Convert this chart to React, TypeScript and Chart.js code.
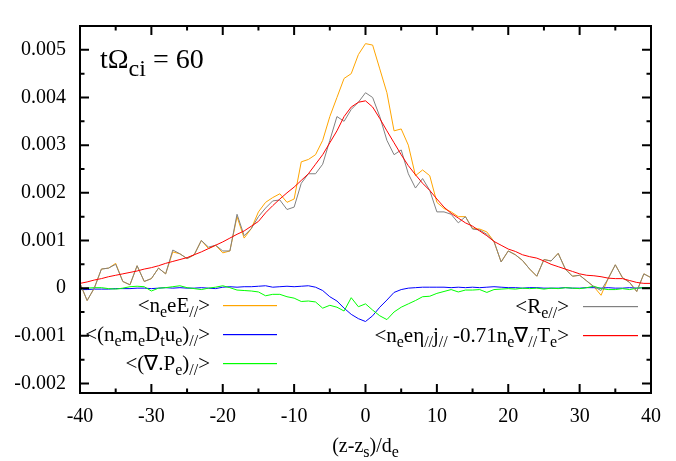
import React, { useEffect, useRef } from "react";
import { Chart, registerables } from "chart.js";
Chart.register(...registerables);

// z positions (z - z_s)/d_e
const zValues = [
  -40, -39, -38, -37, -36, -35, -34, -33, -32, -31, -30, -29, -28, -27, -26, -25, -24, -23, -22, -21,
  -20, -19, -18, -17, -16, -15, -14, -13, -12, -11, -10, -9, -8, -7, -6, -5, -4, -3, -2, -1,
  0, 1, 2, 3, 4, 5, 6, 7, 8, 9, 10, 11, 12, 13, 14, 15, 16, 17, 18, 19,
  20, 21, 22, 23, 24, 25, 26, 27, 28, 29, 30, 31, 32, 33, 34, 35, 36, 37, 38, 39, 40,
];

// <n_e e E_//>  (orange)
const neeE = [
  0.0001, -0.00026, 0.0, 0.0004, 0.00042, 0.00052, 0.00014, 0.00007, 0.00047, 0.00014,
  0.0002, 0.00042, 0.0003, 0.00076, 0.00072, 0.00062, 0.0007, 0.001, 0.00083, 0.0009,
  0.00074, 0.00078, 0.0015, 0.00105, 0.00125, 0.0016, 0.0018, 0.0019, 0.00198, 0.0018,
  0.00187, 0.00265, 0.0027, 0.0028, 0.0031, 0.0036, 0.004, 0.0044, 0.0045, 0.0049,
  0.00513, 0.0051, 0.0046, 0.0041, 0.0033, 0.00334, 0.003, 0.00236, 0.00248, 0.00236,
  0.0018, 0.00167, 0.0016, 0.0015, 0.0015, 0.00125, 0.00124, 0.00118, 0.00098, 0.00055,
  0.00078, 0.0007, 0.00058, 0.0004, 0.00025, 0.0006, 0.00057, 0.00073, 0.0004, 0.00025,
  0.00027, 0.00015, 0.00003, -0.00015, 0.0002, 0.00049, 0.00022, 0.00012, -0.00007, 0.0003, 0.00022,
];

// <(n_e m_e D_t u_e)_//>  (blue)
const nemeDtue = [
  -0.00003, -0.00003, -0.00002, -0.00002, -0.00002, -0.00001, -0.00001, -0.00001, 0.0, 0.0,
  -0.00001, 0.0, 0.00001, 0.0, 0.00001, 0.0, 0.0, 0.00001, 0.0, -0.00001,
  0.00002, 0.00003, 0.00002, 0.00003, 0.00003, 0.00004, 0.00005, 0.00002, 0.00003, 0.00004,
  0.00003, 0.00004, 0.00005, 0.00002, -0.00005, -0.00018, -0.00027, -0.00042, -0.00055, -0.00064,
  -0.0007, -0.00058, -0.0004, -0.00025, -0.00009, -0.00003, 0.0, 0.00001, 0.00002, 0.00002,
  0.00002, 0.00002, 0.00001, 0.00002, 0.00001, 0.00002, 0.00001, 0.00002, 0.00003, 0.00002,
  0.00001, 0.00001, 0.0, 0.00001, 0.00001, 0.0, 0.0, 0.0, 0.00001, 0.0,
  0.0, 0.00001, 0.00001, 0.0, 0.00001, 0.0, 0.0, 0.00001, 0.0, 0.00001, 0.00001,
];

// <(∇.P_e)_//>  (green)
const divPe = [
  -0.00002, 0.0, 0.00001, 0.00001, -0.00001, -0.00002, 0.0, 0.00003, 0.00004, 0.00003,
  -0.00006, 0.0, 0.00001, 0.00003, 0.00005, 0.00001, -0.00001, -0.00003, 0.0, 0.00002,
  0.00005, 0.00001, -0.00004, -0.00005, -0.00006, -0.00008, -0.00016, -0.00013, -0.00013, -0.00018,
  -0.00021, -0.00028, -0.00027, -0.00029, -0.00042, -0.00036, -0.0004, -0.00048, -0.0002, -0.00039,
  -0.00033, -0.00046, -0.00058, -0.00066, -0.0005, -0.0004, -0.00033, -0.00026, -0.00018, -0.00017,
  -0.00011, -0.00007, -0.00003, -0.00008, -0.00004, -0.00004, -0.00003, -0.00009, -0.00003, -0.00002,
  -0.00001, -0.00002, 0.0, -0.00001, 0.0, -0.00002, 0.0, -0.00001, 0.00001, 0.0,
  -0.00001, 0.00001, 0.00004, -0.00001, -0.00003, -0.00003, -0.00001, -0.00003, 0.0, 0.00001, 0.00001,
];

// <R_e//>  (gray)
const ReParallel = [
  0.0001, -0.00026, 0.0, 0.0004, 0.00042, 0.0005, 0.00014, 0.00007, 0.00047, 0.00014,
  0.0002, 0.00042, 0.0003, 0.0008, 0.00072, 0.00062, 0.0007, 0.001, 0.00086, 0.0009,
  0.00078, 0.00078, 0.00155, 0.0011, 0.00125, 0.0015, 0.00168, 0.00183, 0.00185, 0.00165,
  0.0017, 0.0022, 0.0024, 0.0024, 0.0026, 0.0031, 0.0036, 0.0035, 0.00375, 0.0039,
  0.0041, 0.004, 0.0036, 0.0031, 0.0028, 0.0029, 0.0024, 0.0021, 0.0023, 0.00205,
  0.0016, 0.0016, 0.00155, 0.00137, 0.0015, 0.00124, 0.00122, 0.00113, 0.00098, 0.00055,
  0.00078, 0.0007, 0.00058, 0.0004, 0.00025, 0.0006, 0.00057, 0.00073, 0.0004, 0.00025,
  0.00027, 0.00015, 0.00003, -0.00005, 0.0002, 0.00049, 0.00022, 0.00012, -0.00007, 0.0003, 0.00022,
];

// <n_e e η_// j_// - 0.71 n_e ∇_// T_e>  (red)
const resistiveThermal = [
  0.0001, 0.00013, 0.00017, 0.0002, 0.00024, 0.00027, 0.0003, 0.00033, 0.00036, 0.0004,
  0.00043, 0.00047, 0.00052, 0.00056, 0.0006, 0.00064, 0.0007, 0.00076, 0.00083, 0.0009,
  0.00097, 0.00105, 0.00113, 0.0012, 0.0013, 0.0014, 0.00158, 0.00173, 0.00187, 0.002,
  0.00212, 0.00226, 0.0024, 0.0026, 0.0028, 0.00305, 0.0033, 0.0036, 0.0038, 0.0039,
  0.00393, 0.0038, 0.00356, 0.0033, 0.00305, 0.0028, 0.00257, 0.00238, 0.0022, 0.00205,
  0.00187, 0.0017, 0.00157, 0.00147, 0.00137, 0.0013, 0.0012, 0.0011, 0.00098, 0.0009,
  0.00082, 0.00077, 0.0007, 0.00066, 0.00063, 0.00057, 0.0005, 0.00045, 0.0004, 0.00035,
  0.0003, 0.00027, 0.00026, 0.00024, 0.00021, 0.0002, 0.0002, 0.00016, 0.00012, 0.0001, 0.0001,
];

const xTickValues = [-40, -30, -20, -10, 0, 10, 20, 30, 40];
const xMinorValues = [-35, -25, -15, -5, 5, 15, 25, 35];
const yTickValues = [-0.002, -0.001, 0, 0.001, 0.002, 0.003, 0.004, 0.005];
const yMinorValues = [-0.0015, -0.0005, 0.0005, 0.0015, 0.0025, 0.0035, 0.0045];

type Run = { t: string; s?: boolean };

const legendLeft: { runs: Run[]; color: string }[] = [
  { runs: [{ t: "<n" }, { t: "e", s: true }, { t: "eE" }, { t: "//", s: true }, { t: ">" }], color: "#ffa500" },
  {
    runs: [
      { t: "<(n" }, { t: "e", s: true }, { t: "m" }, { t: "e", s: true }, { t: "D" }, { t: "t", s: true },
      { t: "u" }, { t: "e", s: true }, { t: ")" }, { t: "//", s: true }, { t: ">" },
    ],
    color: "#0000ff",
  },
  { runs: [{ t: "<(∇.P" }, { t: "e", s: true }, { t: ")" }, { t: "//", s: true }, { t: ">" }], color: "#00ff00" },
];
const legendRight: { runs: Run[]; color: string }[] = [
  { runs: [{ t: "<R" }, { t: "e//", s: true }, { t: ">" }], color: "#808080" },
  {
    runs: [
      { t: "<n" }, { t: "e", s: true }, { t: "eη" }, { t: "//", s: true }, { t: "j" }, { t: "//", s: true },
      { t: " -0.71n" }, { t: "e", s: true }, { t: "∇" }, { t: "//", s: true }, { t: "T" }, { t: "e", s: true }, { t: ">" },
    ],
    color: "#ff0000",
  },
];
const titleRuns: Run[] = [{ t: "tΩ" }, { t: "ci", s: true }, { t: " = 60" }];
const xTitleRuns: Run[] = [{ t: "(z-z" }, { t: "s", s: true }, { t: ")/d" }, { t: "e", s: true }];

const FONT = '"Liberation Serif", "Times New Roman", Times, serif';

function runsWidth(ctx: CanvasRenderingContext2D, runs: Run[], size: number, sub: number) {
  let w = 0;
  for (const r of runs) {
    ctx.font = `${r.s ? sub : size}px ${FONT}`;
    w += ctx.measureText(r.t).width;
  }
  return w;
}

function drawRuns(
  ctx: CanvasRenderingContext2D, runs: Run[], x: number, baseline: number,
  size: number, sub: number, drop: number, align: "left" | "right" | "center"
) {
  const w = runsWidth(ctx, runs, size, sub);
  let cx = align === "left" ? x : align === "right" ? x - w : x - w / 2;
  ctx.textAlign = "left";
  ctx.textBaseline = "alphabetic";
  ctx.fillStyle = "#000";
  for (const r of runs) {
    ctx.font = `${r.s ? sub : size}px ${FONT}`;
    ctx.fillText(r.t, cx, baseline + (r.s ? drop : 0));
    cx += ctx.measureText(r.t).width;
  }
}

const framePlugin = {
  id: "frameTicks",
  afterDatasetsDraw(chart: any) {
    const { ctx, chartArea } = chart;
    const { left, right, top, bottom } = chartArea;
    const xs = chart.scales.x;
    const ys = chart.scales.y;
    ctx.save();
    ctx.globalAlpha = 1;
    ctx.setLineDash([]);
    ctx.strokeStyle = "#000";
    ctx.lineWidth = 2;
    const major = 9;
    const minor = 4.5;
    ctx.beginPath();
    for (const v of xTickValues) {
      const p = xs.getPixelForValue(v);
      ctx.moveTo(p, bottom); ctx.lineTo(p, bottom - major);
      ctx.moveTo(p, top); ctx.lineTo(p, top + major);
    }
    for (const v of xMinorValues) {
      const p = xs.getPixelForValue(v);
      ctx.moveTo(p, bottom); ctx.lineTo(p, bottom - minor);
      ctx.moveTo(p, top); ctx.lineTo(p, top + minor);
    }
    for (const v of yTickValues) {
      const p = ys.getPixelForValue(v);
      ctx.moveTo(left, p); ctx.lineTo(left + major, p);
      ctx.moveTo(right, p); ctx.lineTo(right - major, p);
    }
    for (const v of yMinorValues) {
      const p = ys.getPixelForValue(v);
      ctx.moveTo(left, p); ctx.lineTo(left + minor, p);
      ctx.moveTo(right, p); ctx.lineTo(right - minor, p);
    }
    ctx.stroke();
    ctx.strokeRect(left, top, right - left, bottom - top);

    // title
    drawRuns(ctx, titleRuns, left + 20, top + 42, 28, 24, 8, "left");
    // x axis title
    drawRuns(ctx, xTitleRuns, (left + right) / 2, bottom + 59, 20, 16, 5, "center");

    // legends
    const drawLegend = (items: { runs: Run[]; color: string }[], textRight: number, lx0: number, lx1: number, y0: number) => {
      items.forEach((it, i) => {
        const y = y0 + i * 29;
        drawRuns(ctx, it.runs, textRight, y + 7, 21, 16, 5, "right");
        ctx.fillStyle = it.color;
        ctx.fillRect(lx0, y, lx1 - lx0, 1.2);
      });
    };
    drawLegend(legendLeft, left + 130, left + 143, left + 197, 305);
    drawLegend(legendRight, right - 82, right - 68, right - 13, 306);
    ctx.restore();
  },
};

export default function App() {
  const ref = useRef<HTMLCanvasElement | null>(null);
  useEffect(() => {
    if (!ref.current) return;
    const pts = (arr: number[]) => zValues.map((z, i) => ({ x: z, y: arr[i] }));
    const ds = (label: string, arr: number[], color: string) => ({
      label,
      data: pts(arr),
      borderColor: color,
      backgroundColor: color,
      borderWidth: 1,
      pointRadius: 0,
      tension: 0,
      fill: false,
    });
    const chart = new Chart(ref.current, {
      type: "line",
      data: {
        datasets: [
          ds("<n_e e η_// j_// -0.71 n_e ∇_// T_e>", resistiveThermal, "#ff0000"),
          ds("<R_e//>", ReParallel, "#808080"),
          ds("<(∇.P_e)_//>", divPe, "#00ff00"),
          ds("<(n_e m_e D_t u_e)_//>", nemeDtue, "#0000ff"),
          ds("<n_e e E_//>", neeE, "#ffa500"),
        ],
      },
      options: {
        animation: false,
        responsive: false,
        layout: { padding: { left: 0, right: 25, top: 6, bottom: 0 } },
        plugins: { legend: { display: false }, tooltip: { enabled: false } },
        scales: {
          x: {
            type: "linear",
            min: -40,
            max: 40,
            grid: { display: false, drawTicks: false },
            border: { display: false },
            afterBuildTicks: (s: any) => { s.ticks = xTickValues.map((v) => ({ value: v })); },
            afterFit: (s: any) => { s.height = 68; },
            ticks: {
              color: "#000",
              padding: 12,
              maxRotation: 0,
              autoSkip: false,
              font: { family: FONT, size: 20 },
              callback: (v: any) => String(v),
            },
          },
          y: {
            type: "linear",
            min: -0.0022,
            max: 0.0055,
            grid: { display: false, drawTicks: false },
            border: { display: false },
            afterBuildTicks: (s: any) => { s.ticks = yTickValues.map((v) => ({ value: v })); },
            afterFit: (s: any) => { s.width = 80; },
            ticks: {
              color: "#000",
              padding: 14,
              autoSkip: false,
              font: { family: FONT, size: 20 },
              callback: (v: any) => (Math.abs(v) < 1e-12 ? "0" : Number(v).toFixed(3)),
            },
          },
        },
      },
      plugins: [framePlugin],
    } as any);
    return () => chart.destroy();
  }, []);
  return (
    <div style={{ position: "fixed", left: 0, top: 0, width: 676, height: 461, background: "#fff" }}>
      <canvas ref={ref} width={676} height={461} style={{ display: "block" }} />
    </div>
  );
}
